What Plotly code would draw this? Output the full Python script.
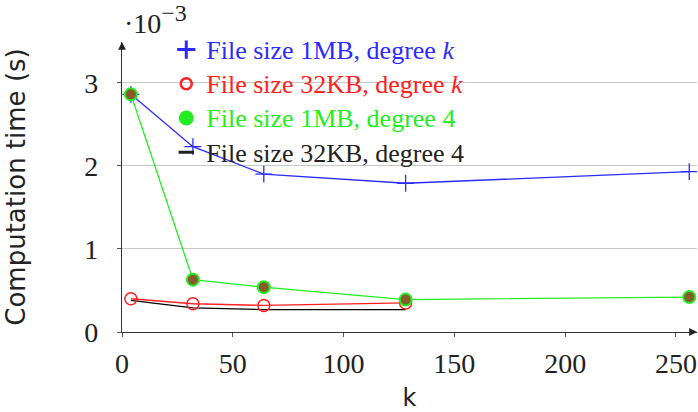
import plotly.graph_objects as go

k_1mb = [4, 32, 64, 128, 256]
t_1mb_degk = [2.86e-3, 2.23e-3, 1.90e-3, 1.79e-3, 1.93e-3]
t_1mb_deg4 = [2.86e-3, 0.63e-3, 0.54e-3, 0.39e-3, 0.42e-3]
k_32kb = [4, 32, 64, 128]
t_32kb_degk = [0.40e-3, 0.34e-3, 0.32e-3, 0.35e-3]
t_32kb_deg4 = [0.38e-3, 0.29e-3, 0.27e-3, 0.27e-3]

x_ticks = [0, 50, 100, 150, 200, 250]
y_ticks = [0, 1e-3, 2e-3, 3e-3]
y_ticklabels = ["0", "1", "2", "3"]

BLUE = "#2b2bff"
RED = "#ff2020"
GREEN = "#22ee22"
BROWN = "#8a5a2c"

serif = "Liberation Serif"
sans = "DejaVu Sans"

fig = go.Figure()

# data traces
fig.add_trace(go.Scatter(x=k_1mb, y=t_1mb_degk, mode="lines+markers",
                         line=dict(color=BLUE, width=1.3),
                         marker=dict(symbol="cross-thin", size=12, line=dict(color=BLUE, width=1.3)),
                         showlegend=False))
fig.add_trace(go.Scatter(x=k_32kb, y=t_32kb_deg4, mode="lines",
                         line=dict(color="black", width=1.3), showlegend=False))
fig.add_trace(go.Scatter(x=k_32kb, y=t_32kb_degk, mode="lines+markers",
                         line=dict(color=RED, width=1.3),
                         marker=dict(symbol="circle-open", size=12, line=dict(color=RED, width=1.5)),
                         showlegend=False))
fig.add_trace(go.Scatter(x=k_1mb, y=t_1mb_deg4, mode="lines+markers",
                         line=dict(color=GREEN, width=1.3),
                         marker=dict(symbol="circle", size=12, color=BROWN, line=dict(color=GREEN, width=2)),
                         showlegend=False))

# legend entries
span = '<span style="color:%s;font-size:26px">%s</span>'
leg = [
    (span % (BLUE, "File size 1MB, degree <i>k</i>"),
     dict(symbol="cross-thin", size=13, color=BLUE, line=dict(color=BLUE, width=3))),
    (span % (RED, "File size 32KB, degree <i>k</i>"),
     dict(symbol="circle-open", size=11, color=RED, line=dict(color=RED, width=2.5))),
    (span % (GREEN, "File size 1MB, degree 4"),
     dict(symbol="circle", size=15, color=GREEN, line=dict(color=GREEN, width=0))),
    (span % ("#222", "File size 32KB, degree 4"),
     dict(symbol="line-ew", size=11, color="#222", line=dict(color="#222", width=3))),
]
for name, mk in leg:
    fig.add_trace(go.Scatter(x=[None], y=[None], mode="markers", name=name,
                             marker=mk, showlegend=True))

L, R, T, B = 122, 1, 42, 80
fig.update_layout(
    width=698, height=412,
    margin=dict(l=L, r=R, t=T, b=B, autoexpand=False),
    plot_bgcolor="white", paper_bgcolor="white",
    legend=dict(x=0.077, y=1.05, xanchor="left", yanchor="top",
                bgcolor="rgba(0,0,0,0)", font=dict(family=serif, size=24),
                itemwidth=30, traceorder="normal", itemclick=False),
    font=dict(family=serif, size=28, color="#222"),
)
fig.update_xaxes(range=[0, 259.5], tickvals=x_ticks, showgrid=False, zeroline=False,
                 showline=True, linecolor="#333", linewidth=1.3,
                 ticks="outside", ticklen=4, tickcolor="#555",
                 ticklabelstandoff=2,
                 tickfont=dict(family=serif, size=28, color="#222"),
                 title=dict(text="k", font=dict(family=sans, size=24, color="#222"), standoff=13))
fig.update_yaxes(range=[0, 3.49e-3], tickvals=y_ticks, ticktext=y_ticklabels,
                 showgrid=True, gridcolor="#c8c8c8", gridwidth=1.2, zeroline=False,
                 showline=True, linecolor="#333", linewidth=1.3,
                 ticks="outside", ticklen=4, tickcolor="#555",
                 ticklabelstandoff=13,
                 tickfont=dict(family=serif, size=28, color="#222"),
                 title=dict(text="Computation time (s)", font=dict(family=sans, size=26, color="#222"), standoff=51))

# axis arrows
fig.add_annotation(x=1.0, y=0, xref="paper", yref="paper", ax=-8, ay=0, axref="pixel", ayref="pixel",
                   showarrow=True, arrowhead=2, arrowsize=1.2, arrowwidth=1.3, arrowcolor="#222", text="")
fig.add_annotation(x=0, y=1.0, xref="paper", yref="paper", ax=0, ay=8, showarrow=True,
                   arrowhead=2, arrowsize=1.2, arrowwidth=1.3, arrowcolor="#222", text="")

fig.add_annotation(x=0, y=1.0, xref="paper", yref="paper", xanchor="left", yanchor="bottom",
                   xshift=0, yshift=1, showarrow=False,
                   text='·10<sup><span style="font-size:24px">−3</span></sup>',
                   font=dict(family=serif, size=28, color="#222"))

fig.write_html("out.html")
